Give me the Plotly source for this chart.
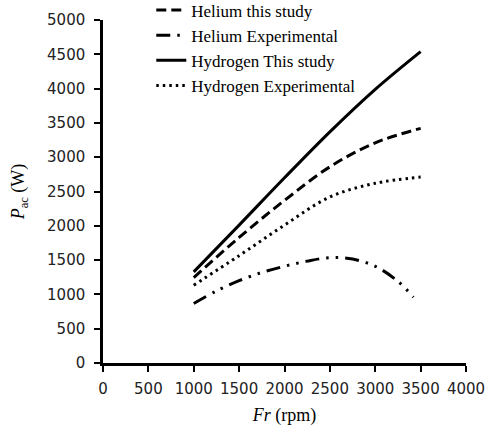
import plotly.graph_objects as go

# Data
rpm_he_study = [1000, 1500, 2000, 2500, 3000, 3500]
p_he_study = [1246, 1830, 2370, 2860, 3210, 3420]

rpm_he_exp = [1000, 1250, 1500, 1750, 2000, 2250, 2500, 2750, 3000, 3250, 3420]
p_he_exp = [867, 1050, 1200, 1320, 1410, 1485, 1535, 1515, 1410, 1190, 960]

rpm_h2_study = [1000, 1500, 2000, 2500, 3000, 3500]
p_h2_study = [1328, 2010, 2700, 3370, 3990, 4540]

rpm_h2_exp = [1000, 1500, 2000, 2500, 3000, 3500]
p_h2_exp = [1134, 1565, 2010, 2420, 2620, 2710]

x_ticks = [0, 500, 1000, 1500, 2000, 2500, 3000, 3500, 4000]
y_ticks = [0, 500, 1000, 1500, 2000, 2500, 3000, 3500, 4000, 4500, 5000]

fig = go.Figure()
fig.add_trace(go.Scatter(x=rpm_he_study, y=p_he_study, mode="lines",
                         name="Helium this study",
                         line=dict(color="black", width=3, dash="10px,5px", shape="spline")))
fig.add_trace(go.Scatter(x=rpm_he_exp, y=p_he_exp, mode="lines",
                         name="Helium Experimental",
                         line=dict(color="black", width=3,
                                   dash="14px,7px,2.5px,7px,2.5px,7px", shape="spline")))
fig.add_trace(go.Scatter(x=rpm_h2_study, y=p_h2_study, mode="lines",
                         name="Hydrogen This study",
                         line=dict(color="black", width=3, shape="spline")))
fig.add_trace(go.Scatter(x=rpm_h2_exp, y=p_h2_exp, mode="lines",
                         name="Hydrogen Experimental",
                         line=dict(color="black", width=3, dash="2.5px,4px", shape="spline")))

tick_font = dict(family="DejaVu Sans", size=15, color="#222222")
title_font = dict(family="Liberation Serif", size=18, color="black")

fig.update_layout(
    width=489, height=434,
    margin=dict(l=103, r=23, t=20, b=71, autoexpand=False),
    paper_bgcolor="white", plot_bgcolor="white",
    showlegend=True,
    legend=dict(x=0.133, y=1.08, xanchor="left", yanchor="top",
                font=dict(family="Liberation Serif", size=17, color="black"),
                bgcolor="rgba(0,0,0,0)", borderwidth=0, itemwidth=30),
    xaxis=dict(range=[0, 4000], tickvals=x_ticks, ticktext=[str(v) for v in x_ticks],
               showgrid=False, zeroline=False, showline=True, linecolor="black", linewidth=2.5,
               ticks="outside", ticklen=6, tickwidth=2, tickcolor="black",
               tickfont=tick_font, ticklabelstandoff=4,
               title=dict(text="<i>Fr</i> (rpm)", font=title_font, standoff=12)),
    yaxis=dict(range=[0, 5000], tickvals=y_ticks, ticktext=[str(v) for v in y_ticks],
               showgrid=False, zeroline=False, showline=True, linecolor="black", linewidth=2.5,
               ticks="outside", ticklen=6, tickwidth=2, tickcolor="black",
               tickfont=tick_font, ticklabelstandoff=6,
               title=dict(text="<i>P</i><sub>ac</sub> (W)", font=title_font, standoff=18)),
)

fig.write_html("out.html")
